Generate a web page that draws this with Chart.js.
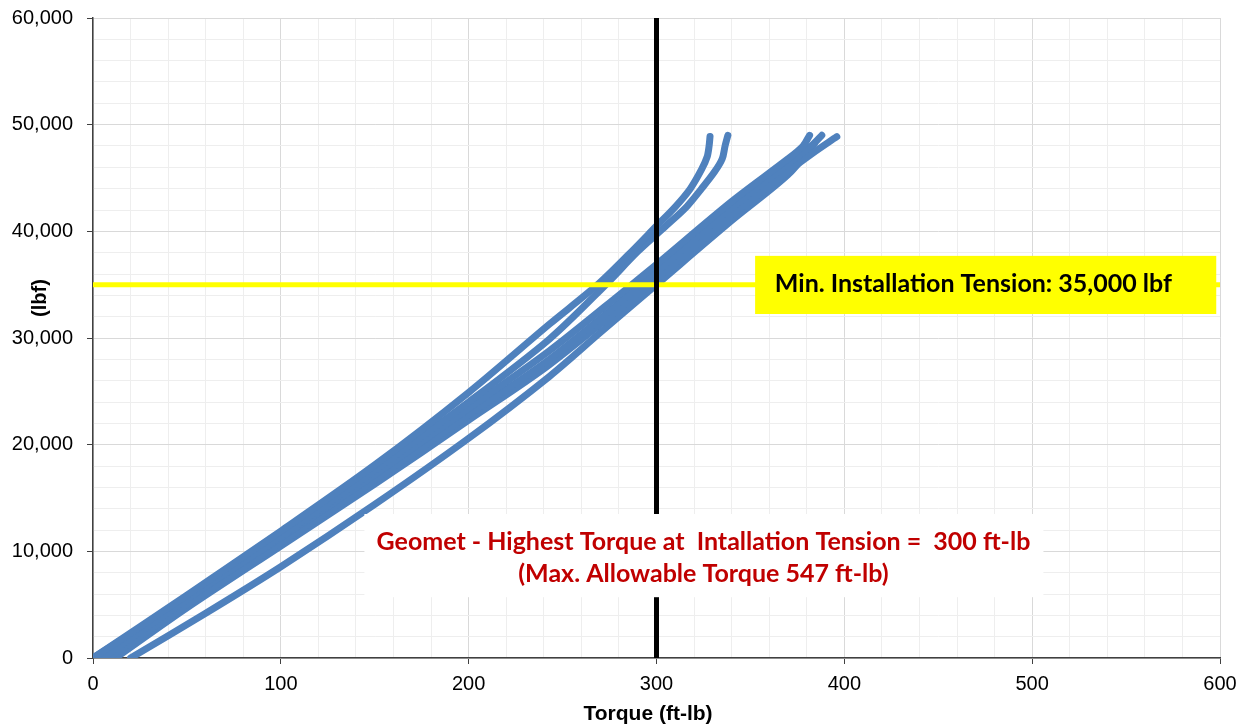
<!DOCTYPE html>
<html>
<head>
<meta charset="utf-8">
<script src="https://cdn.jsdelivr.net/npm/chart.js@4.4.0/dist/chart.umd.min.js"></script>
<style>
html, body { margin: 0; padding: 0; background: #fff; }
canvas { display: block; }
</style>
</head>
<body>
<canvas id="chart" width="1248" height="728"></canvas>
<script>
// torque (ft-lb) against tension (lbf), one pair of arrays per pull test
var runA1Torque = [0, 50, 100, 150, 200, 243, 268, 285, 300, 310, 318, 324, 327, 328, 328.5];
var runA1Tension = [0, 5900, 11900, 18100, 24900, 31300, 34900, 37800, 40500, 42300, 44000, 45800, 47000, 48000, 48900];

var runA2Torque = [5, 50, 100, 150, 200, 243, 273, 290, 305, 316, 324, 331, 335, 336.5, 338];
var runA2Tension = [0, 5500, 11400, 17600, 24000, 29900, 35000, 38100, 40500, 42300, 44000, 45600, 46800, 48000, 49000];

var runB1Torque = [0, 50, 100, 150, 200, 243, 282, 300, 340, 370, 378, 381.5];
var runB1Tension = [0, 5600, 11300, 17200, 23400, 28800, 34300, 36900, 42800, 46800, 48000, 49000];

var runB2Torque = [8, 50, 100, 150, 200, 243, 300, 340, 372, 383, 388];
var runB2Tension = [0, 5000, 10800, 16700, 22800, 28000, 36200, 42200, 46600, 48100, 49000];

var runB3Torque = [12, 50, 100, 150, 200, 243, 300, 340, 370, 383, 396];
var runB3Tension = [0, 4700, 10500, 16300, 22300, 27500, 35600, 41500, 45600, 47300, 48870];

var runCTorque = [20, 60, 100, 150, 200, 243, 270, 300, 340, 370, 384];
var runCTension = [0, 4200, 8560, 14400, 20600, 26400, 30500, 35000, 41000, 45300, 48200];

// reference lines
var minTension = 35000;
var highestTorque = 300;

var tensionLabel = 'Min. Installation Tension: 35,000 lbf';
var torqueLabel = ['Geomet - Highest Torque at  Intallation Tension =  300 ft-lb', '(Max. Allowable Torque 547 ft-lb)'];
var xTitle = 'Torque (ft-lb)';
var yTitle = '(lbf)';

function pairs(xs, ys) {
    var out = [];
    for (var i = 0; i < xs.length; i++) {
        out.push({ x: xs[i], y: ys[i] });
    }
    return out;
}

function run(xs, ys) {
    return {
        data: pairs(xs, ys),
        showLine: true,
        borderColor: '#4f81bd',
        backgroundColor: '#4f81bd',
        borderWidth: 7,
        borderCapStyle: 'round',
        borderJoinStyle: 'round',
        pointRadius: 0,
        tension: 0.3,
        order: 2
    };
}

// text boxes and axis titles drawn on top of the plot, placed in axis units
var notesPlugin = {
    id: 'notes',
    afterDatasetsDraw: function (chart) {
        var ctx = chart.ctx;
        var xs = chart.scales.x, ys = chart.scales.y;
        ctx.save();

        // white box with the torque note
        var l = xs.getPixelForValue(144.5), r = xs.getPixelForValue(506);
        var t = ys.getPixelForValue(13500), b = ys.getPixelForValue(5700);
        ctx.fillStyle = '#ffffff';
        ctx.fillRect(l, t, r - l, b - t);
        ctx.fillStyle = '#c00000';
        ctx.font = 'bold 25px Lato';
        ctx.textAlign = 'center';
        ctx.textBaseline = 'alphabetic';
        var cx = xs.getPixelForValue(325);
        ctx.fillText(torqueLabel[0], cx, ys.getPixelForValue(10125));
        ctx.fillText(torqueLabel[1], cx, ys.getPixelForValue(7150));

        // yellow box with the tension note
        l = xs.getPixelForValue(352.5); r = xs.getPixelForValue(598);
        t = ys.getPixelForValue(37700); b = ys.getPixelForValue(32250);
        ctx.fillStyle = '#ffff00';
        ctx.fillRect(l, t, r - l, b - t);
        ctx.fillStyle = '#000000';
        ctx.textAlign = 'left';
        ctx.fillText(tensionLabel, xs.getPixelForValue(363), ys.getPixelForValue(34340));

        // axis titles
        ctx.font = 'bold 21px "Liberation Sans"';
        ctx.textAlign = 'center';
        ctx.textBaseline = 'middle';
        ctx.fillText(xTitle, xs.getPixelForValue(295.5), xs.bottom - 14);
        ctx.font = 'bold 20px "Liberation Sans"';
        ctx.translate(40, ys.getPixelForValue(33750));
        ctx.rotate(-Math.PI / 2);
        ctx.fillText(yTitle, 0, 0);
        ctx.restore();
    }
};

function isMajor(c, step) {
    return c.tick && c.tick.value % step === 0;
}

Chart.defaults.font.family = '"Liberation Sans", Arial, sans-serif';
Chart.defaults.color = '#000';

var chart = new Chart(document.getElementById('chart').getContext('2d'), {
    type: 'scatter',
    data: {
        datasets: [
            {
                data: [{ x: highestTorque, y: 0 }, { x: highestTorque, y: 60000 }],
                showLine: true,
                borderColor: '#000000',
                borderWidth: 5,
                pointRadius: 0,
                order: 0
            },
            {
                data: [{ x: 0, y: minTension }, { x: 600, y: minTension }],
                showLine: true,
                borderColor: '#ffff00',
                borderWidth: 5,
                pointRadius: 0,
                order: 1
            },
            run(runA1Torque, runA1Tension),
            run(runA2Torque, runA2Tension),
            run(runB1Torque, runB1Tension),
            run(runB2Torque, runB2Tension),
            run(runB3Torque, runB3Tension),
            run(runCTorque, runCTension)
        ]
    },
    options: {
        responsive: false,
        animation: false,
        devicePixelRatio: 1,
        layout: {
            padding: { left: 0, right: 28, top: 18, bottom: 0 }
        },
        plugins: {
            legend: { display: false },
            tooltip: { enabled: false }
        },
        scales: {
            x: {
                type: 'linear',
                min: 0,
                max: 600,
                ticks: {
                    stepSize: 20,
                    autoSkip: false,
                    maxRotation: 0,
                    padding: 8,
                    font: { size: 20 },
                    callback: function (v) { return v % 100 === 0 ? String(v) : ''; }
                },
                grid: {
                    color: function (c) { return isMajor(c, 100) ? '#d9d9d9' : '#eeeeee'; },
                    tickColor: function (c) { return isMajor(c, 100) ? '#404040' : 'rgba(0,0,0,0)'; },
                    tickLength: 6
                },
                border: { color: '#404040', width: 1.5 },
                afterFit: function (s) { s.height = 70; }
            },
            y: {
                type: 'linear',
                min: 0,
                max: 60000,
                ticks: {
                    stepSize: 2000,
                    autoSkip: false,
                    padding: 14,
                    font: { size: 20 },
                    callback: function (v) { return v % 10000 === 0 ? v.toLocaleString('en-US') : ''; }
                },
                grid: {
                    color: function (c) { return isMajor(c, 10000) ? '#d9d9d9' : '#eeeeee'; },
                    tickColor: function (c) { return isMajor(c, 10000) ? '#404040' : 'rgba(0,0,0,0)'; },
                    tickLength: 6
                },
                border: { color: '#404040', width: 1.5 },
                afterFit: function (s) {
                    s.width = 93;
                    s.paddingTop = 0;
                    s.paddingBottom = 0;
                }
            }
        }
    },
    plugins: [notesPlugin]
});
</script>
</body>
</html>
